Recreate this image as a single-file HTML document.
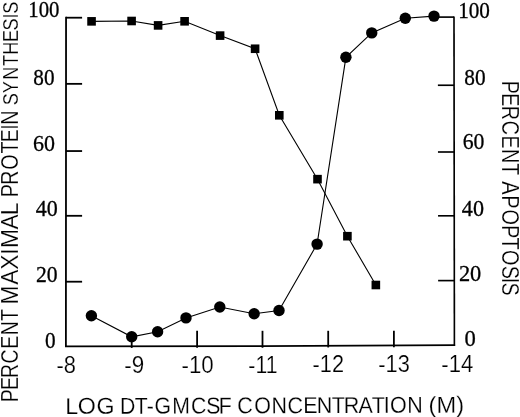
<!DOCTYPE html>
<html><head><meta charset="utf-8"><title>chart</title><style>html,body{margin:0;padding:0;background:#fff}svg{display:block}</style></head><body>
<svg width="520" height="417" viewBox="0 0 520 417">
<rect width="520" height="417" fill="#fff"/>
<g stroke="#000" stroke-width="1.8" fill="none" stroke-linecap="butt" stroke-linejoin="miter">
<path d="M66.05 16.8L65.9 346.3L262 346.05L455.09999999999997 345.15"/>
<path d="M454.4 346.04999999999995L454.0 16.6" stroke-width="1.65"/>
<path d="M66.0 17.7H82.1"/>
<path d="M66.0 83.85H82.1"/>
<path d="M66.0 151.05H82.1"/>
<path d="M66.0 215.8H82.1"/>
<path d="M66.0 281.7H82.1"/>
<path d="M454.00 17.1h-16.2" stroke-width="1.65"/>
<path d="M454.08 85.25h-16.2" stroke-width="1.65"/>
<path d="M454.16 152.0h-16.2" stroke-width="1.65"/>
<path d="M454.24 215.8h-16.2" stroke-width="1.65"/>
<path d="M454.32 280.6h-16.2" stroke-width="1.65"/>
<path d="M131.7 347.92V333.0"/>
<path d="M197.1 347.83V330.8"/>
<path d="M262.5 347.75V330.8"/>
<path d="M328.2 347.44V330.8"/>
<path d="M393.9 347.13V330.8"/>
</g>
<g stroke="#000" stroke-width="1.1" fill="none">
<polyline points="91.55,21.35 131.6,21.0 158.1,25.4 184.6,21.3 220.1,35.6 255.1,48.75 279.3,115.3 317.5,179.15 347.4,236.2 375.85,285"/>
<polyline points="91.4,315.7 131.7,336.8 157.6,331.7 186,317.9 219.8,307.0 254.15,313.7 279,310.5 317.1,244.1 345.9,57.3 371.75,32.9 405.3,18.3 434,16.1"/>
</g>
<g fill="#000">
<rect x="87.25" y="17.05" width="8.6" height="8.6"/>
<rect x="127.30" y="16.70" width="8.6" height="8.6"/>
<rect x="153.80" y="21.10" width="8.6" height="8.6"/>
<rect x="180.30" y="17.00" width="8.6" height="8.6"/>
<rect x="215.80" y="31.30" width="8.6" height="8.6"/>
<rect x="250.80" y="44.45" width="8.6" height="8.6"/>
<rect x="275.00" y="111.00" width="8.6" height="8.6"/>
<rect x="313.20" y="174.85" width="8.6" height="8.6"/>
<rect x="343.10" y="231.90" width="8.6" height="8.6"/>
<rect x="371.55" y="280.70" width="8.6" height="8.6"/>
<circle cx="91.4" cy="315.7" r="5.7"/>
<circle cx="131.7" cy="336.8" r="5.7"/>
<circle cx="157.6" cy="331.7" r="5.7"/>
<circle cx="186" cy="317.9" r="5.7"/>
<circle cx="219.8" cy="307.0" r="5.7"/>
<circle cx="254.15" cy="313.7" r="5.7"/>
<circle cx="279" cy="310.5" r="5.7"/>
<circle cx="317.1" cy="244.1" r="5.7"/>
<circle cx="345.9" cy="57.3" r="5.7"/>
<circle cx="371.75" cy="32.9" r="5.7"/>
<circle cx="405.3" cy="18.3" r="5.7"/>
<circle cx="434" cy="16.1" r="5.7"/>
</g>
<g fill="#000" stroke="#000" stroke-width="0.3">
<text transform="translate(28.28 17.40) scale(0.9196 1)" font-family="'Liberation Serif', serif" font-size="22.6">100</text>
<text transform="translate(33.34 84.70) scale(0.9392 1)" font-family="'Liberation Serif', serif" font-size="22.6">80</text>
<text transform="translate(33.01 150.90) scale(0.9723 1)" font-family="'Liberation Serif', serif" font-size="22.6">60</text>
<text transform="translate(35.76 215.60) scale(0.9749 1)" font-family="'Liberation Serif', serif" font-size="22.6">40</text>
<text transform="translate(36.02 281.80) scale(0.9581 1)" font-family="'Liberation Serif', serif" font-size="22.6">20</text>
<text transform="translate(44.94 347.70) scale(0.9406 1)" font-family="'Liberation Serif', serif" font-size="22.6">0</text>
<text transform="translate(458.14 17.50) scale(0.9386 1)" font-family="'Liberation Serif', serif" font-size="22.6">100</text>
<text transform="translate(464.33 84.60) scale(0.9440 1)" font-family="'Liberation Serif', serif" font-size="22.6">80</text>
<text transform="translate(462.72 149.30) scale(0.9628 1)" font-family="'Liberation Serif', serif" font-size="22.6">60</text>
<text transform="translate(461.85 215.80) scale(0.9795 1)" font-family="'Liberation Serif', serif" font-size="22.6">40</text>
<text transform="translate(458.90 281.00) scale(0.9912 1)" font-family="'Liberation Serif', serif" font-size="22.6">20</text>
<text transform="translate(464.39 346.40) scale(1.0013 1)" font-family="'Liberation Serif', serif" font-size="22.6">0</text>
</g>
<g fill="#000" stroke="#fff" stroke-width="0.2">
<text transform="translate(56.42 372.75) scale(0.9399 1)" font-family="'Liberation Sans', sans-serif" font-size="23.3">-8</text>
<text transform="translate(124.20 372.75) scale(0.9609 1)" font-family="'Liberation Sans', sans-serif" font-size="23.3">-9</text>
<text transform="translate(181.50 372.75) scale(0.9578 1)" font-family="'Liberation Sans', sans-serif" font-size="23.3">-10</text>
<text transform="translate(248.34 372.55) scale(0.9117 1)" font-family="'Liberation Sans', sans-serif" font-size="23.3">-11</text>
<text transform="translate(312.62 372.30) scale(0.9312 1)" font-family="'Liberation Sans', sans-serif" font-size="23.3">-12</text>
<text transform="translate(378.22 372.10) scale(0.9374 1)" font-family="'Liberation Sans', sans-serif" font-size="23.3">-13</text>
<text transform="translate(441.31 371.55) scale(0.9485 1)" font-family="'Liberation Sans', sans-serif" font-size="23.3">-14</text>
<text transform="translate(65.88 413.90) rotate(-0.19) scale(1.0121 1)" x="-0.58 11.65 30.26" font-family="'Liberation Sans', sans-serif" font-size="23">LOG</text>
<text transform="translate(120.04 413.72) rotate(-0.19) scale(0.9256 1)" x="-0.07 15.77 28.86 37.27 56.36 76.73 93.07 106.57" font-family="'Liberation Sans', sans-serif" font-size="23">DT-GMCSF</text>
<text transform="translate(236.79 413.34) rotate(-0.19) scale(0.9365 1)" x="0.57 18.66 37.15 54.09 71.01 85.35 101.33 114.29 129.94 144.22 156.96 163.60 182.14" font-family="'Liberation Sans', sans-serif" font-size="23">CONCENTRATION</text>
<text transform="translate(428.49 412.71) rotate(-0.19) scale(1.0308 1)" x="-0.09 7.81 26.91" font-family="'Liberation Sans', sans-serif" font-size="23">(M)</text>
<text transform="translate(18.45 402.12) rotate(-90) scale(0.8458 1)" x="-0.28 14.22 28.63 45.62 63.24 79.10 95.98" font-family="'Liberation Sans', sans-serif" font-size="23">PERCENT</text>
<text transform="translate(18.45 305.48) rotate(-90) scale(0.9886 1)" x="1.00 21.05 36.13 51.25 58.02 76.89 91.36" font-family="'Liberation Sans', sans-serif" font-size="23">MAXIMAL</text>
<text transform="translate(18.45 197.13) rotate(-90) scale(0.8503 1)" x="-0.26 14.69 32.26 51.22 64.58 79.36 85.03" font-family="'Liberation Sans', sans-serif" font-size="23">PROTEIN</text>
<text transform="translate(18.45 104.87) rotate(-90) scale(0.7880 1)" x="-0.40 14.86 32.03 49.40 63.73 79.80 94.31 109.49 115.64" font-family="'Liberation Sans', sans-serif" font-size="23">SYNTHESIS</text>
<text transform="translate(501.90 80.76) rotate(90) scale(0.8588 1)" x="-0.06 14.63 29.16 46.52 63.83 79.47 96.09" font-family="'Liberation Sans', sans-serif" font-size="23">PERCENT</text>
<text transform="translate(501.90 180.50) rotate(90) scale(0.8644 1)" x="0.79 17.02 33.47 51.54 66.02 80.41 98.49 112.58 117.89" font-family="'Liberation Sans', sans-serif" font-size="23">APOPTOSIS</text>
</g>
</svg>
</body></html>
